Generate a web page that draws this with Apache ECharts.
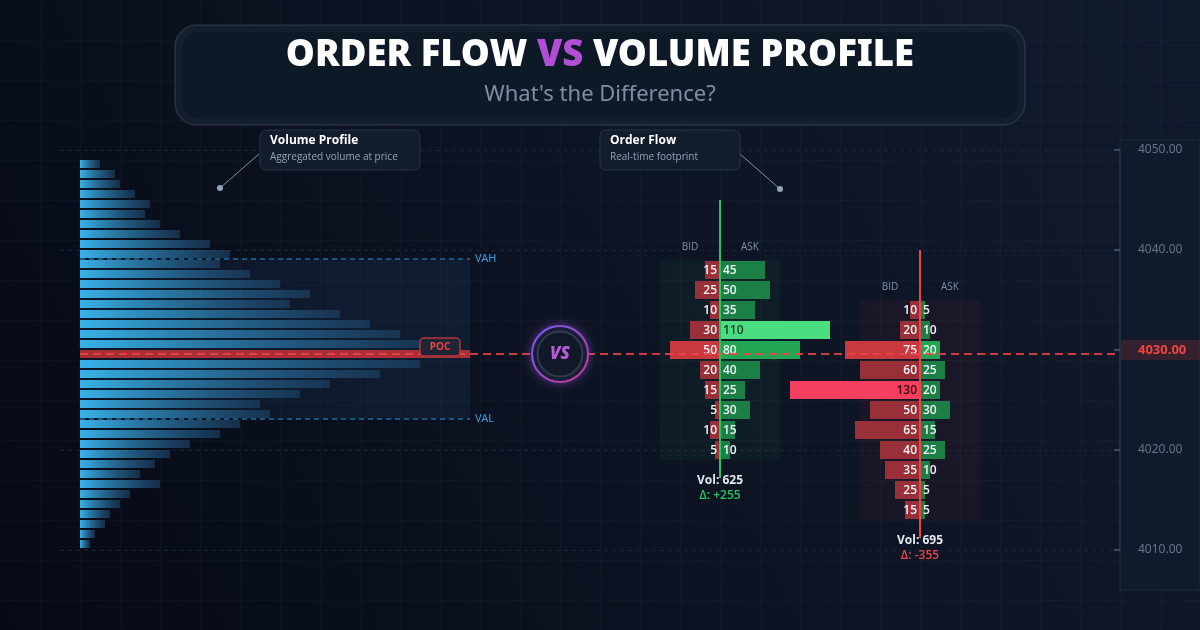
<!DOCTYPE html>
<html>
<head>
<meta charset="utf-8">
<script src="https://cdn.jsdelivr.net/npm/echarts@6/dist/echarts.min.js"></script>
<style>
  html, body { margin: 0; padding: 0; background: #0a1020; }
  #chart { width: 1200px; height: 630px; }
</style>
</head>
<body>
<div id="chart"></div>
<script>
// volume profile, one row per price level (top to bottom)
const profilePrices = [4049, 4048, 4047, 4046, 4045, 4044, 4043, 4042, 4041, 4040,
  4039, 4038, 4037, 4036, 4035, 4034, 4033, 4032, 4031, 4030,
  4029, 4028, 4027, 4026, 4025, 4024, 4023, 4022, 4021, 4020,
  4019, 4018, 4017, 4016, 4015, 4014, 4013, 4012, 4011]
const profileVol = [20, 35, 40, 55, 70, 65, 80, 100, 130, 150,
  140, 170, 200, 230, 210, 260, 290, 320, 340, 390,
  340, 300, 250, 220, 180, 190, 160, 140, 110, 90,
  75, 60, 80, 50, 40, 30, 25, 15, 10]
const pocPrice = 4030
const vahPrice = 4039.5
const valPrice = 4023.5

// footprint 1 (buyers in control)
const fp1Prices = [4038, 4036, 4034, 4032, 4030, 4028, 4026, 4024, 4022, 4020]
const fp1Bid = [15, 25, 10, 30, 50, 20, 15, 5, 10, 5]
const fp1Ask = [45, 50, 35, 110, 80, 40, 25, 30, 15, 10]

// footprint 2 (sellers in control)
const fp2Prices = [4034, 4032, 4030, 4028, 4026, 4024, 4022, 4020, 4018, 4016, 4014]
const fp2Bid = [10, 20, 75, 60, 130, 50, 65, 40, 35, 25, 15]
const fp2Ask = [5, 10, 20, 25, 20, 30, 15, 25, 10, 5, 5]

const priceTicks = [4010, 4020, 4030, 4040, 4050]

const sum = arr => arr.reduce((a, b) => a + b, 0)
const pocVol = Math.max(...profileVol)

const RED = '#ef4444'
const GREEN = '#22c55e'

const footprints = [
  { prices: fp1Prices, bid: fp1Bid, ask: fp1Ask, cx: 720, lineTop: 4045, line: GREEN, box: 'rgba(34,197,94,0.05)' },
  { prices: fp2Prices, bid: fp2Bid, ask: fp2Ask, cx: 920, lineTop: 4040, line: RED, box: 'rgba(239,68,68,0.05)' },
]

function footprintSeries(fp) {
  const delta = sum(fp.ask) - sum(fp.bid)
  const hotSide = delta >= 0 ? 'ask' : 'bid'
  const hotIdx = hotSide === 'ask' ? fp.ask.indexOf(Math.max(...fp.ask)) : fp.bid.indexOf(Math.max(...fp.bid))
  return {
    type: 'custom',
    xAxisIndex: 0,
    yAxisIndex: 0,
    z: 3,
    data: fp.prices.map((p, i) => [p, fp.bid[i], fp.ask[i]]),
    renderItem(params, api) {
      const i = params.dataIndex
      const p = api.value(0)
      const b = api.value(1)
      const a = api.value(2)
      const h = api.size([0, 1.8])[1]
      const l = api.coord([fp.cx - b, p])
      const c = api.coord([fp.cx, p])
      const r = api.coord([fp.cx + a, p])
      const atPoc = p === pocPrice
      const bidHot = hotSide === 'bid' && i === hotIdx
      const askHot = hotSide === 'ask' && i === hotIdx
      const bidFill = bidHot ? '#f43f5e' : atPoc ? '#c9383e' : '#992f37'
      const askFill = askHot ? '#4ade80' : atPoc ? '#22a654' : '#1c8046'
      const font = '600 12px "Open Sans", "Noto Sans", sans-serif'
      return {
        type: 'group',
        children: [
          { type: 'rect', shape: { x: l[0], y: c[1] - h / 2, width: c[0] - l[0], height: h }, style: { fill: bidFill } },
          { type: 'rect', shape: { x: c[0], y: c[1] - h / 2, width: r[0] - c[0], height: h }, style: { fill: askFill } },
          { type: 'text', x: c[0] - 3, y: c[1] + 0.5, style: { text: String(b), align: 'right', verticalAlign: 'middle', font, fill: bidHot ? '#3b0613' : '#f1f5f9' } },
          { type: 'text', x: c[0] + 3, y: c[1] + 0.5, style: { text: String(a), align: 'left', verticalAlign: 'middle', font, fill: askHot ? '#0f3d22' : '#f1f5f9' } },
        ],
      }
    },
  }
}

const series = [
  // value area background
  {
    type: 'custom',
    xAxisIndex: 1,
    yAxisIndex: 1,
    z: 1,
    data: [[vahPrice, valPrice, pocVol]],
    renderItem(params, api) {
      const tl = api.coord([0, api.value(0)])
      const br = api.coord([api.value(2), api.value(1)])
      return {
        type: 'rect',
        shape: { x: tl[0], y: tl[1], width: br[0] - tl[0], height: br[1] - tl[1] },
        style: { fill: new echarts.graphic.LinearGradient(0, 0, 1, 0, [
          { offset: 0, color: 'rgba(40,90,140,0.10)' },
          { offset: 1, color: 'rgba(40,90,140,0.16)' },
        ]) },
      }
    },
  },
  // volume profile bars
  {
    type: 'custom',
    xAxisIndex: 1,
    yAxisIndex: 1,
    z: 2,
    data: profilePrices.map((p, i) => [profileVol[i], p]),
    renderItem(params, api) {
      const v = api.value(0)
      const p = api.value(1)
      const s = api.coord([0, p])
      const e = api.coord([v, p])
      const h = api.size([0, 0.8])[1]
      const fill = p === pocPrice
        ? 'rgba(196,50,58,0.85)'
        : new echarts.graphic.LinearGradient(0, 0, 1, 0, [
          { offset: 0, color: '#38b2ea' },
          { offset: 1, color: 'rgba(32,72,112,0.55)' },
        ])
      return { type: 'rect', shape: { x: s[0], y: s[1] - h / 2, width: e[0] - s[0], height: h }, style: { fill } }
    },
  },
  // VAH / VAL
  {
    type: 'line',
    xAxisIndex: 1,
    yAxisIndex: 1,
    z: 3,
    symbol: 'none',
    data: [[0, vahPrice], [pocVol, vahPrice]],
    lineStyle: { color: '#1d6b9c', width: 1.5, type: [5, 4] },
    endLabel: { show: true, formatter: 'VAH', color: '#3b9ddb', fontSize: 11, distance: 5, fontFamily: 'Noto Sans' },
  },
  {
    type: 'line',
    xAxisIndex: 1,
    yAxisIndex: 1,
    z: 3,
    symbol: 'none',
    data: [[0, valPrice], [pocVol, valPrice]],
    lineStyle: { color: '#1d6b9c', width: 1.5, type: [5, 4] },
    endLabel: { show: true, formatter: 'VAL', color: '#3b9ddb', fontSize: 11, distance: 5, fontFamily: 'Noto Sans' },
  },
  ...footprints.map(footprintSeries),
  // POC line across the whole chart
  {
    type: 'line',
    xAxisIndex: 1,
    yAxisIndex: 1,
    z: 4,
    symbol: 'none',
    data: [[0, pocPrice], [1035, pocPrice]],
    lineStyle: { color: RED, width: 2, type: [8, 5], opacity: 0.85 },
  },
  // footprint spines
  ...footprints.map(fp => ({
    type: 'line',
    xAxisIndex: 0,
    yAxisIndex: 0,
    z: 5,
    symbol: 'none',
    data: [[fp.cx, fp.lineTop], [fp.cx, fp.prices[fp.prices.length - 1] - 2.8]],
    lineStyle: { color: fp.line, width: 2 },
  })),
]

const option = {
  backgroundColor: '#0a1020',
  animation: false,
  title: {
    text: '{w|ORDER FLOW }{v|VS}{w| VOLUME PROFILE}',
    subtext: "What's the Difference?",
    left: 'center',
    top: 28,
    itemGap: 14,
    textStyle: {
      rich: {
        w: { color: '#ffffff', fontSize: 36.5, fontWeight: 900, fontFamily: 'Noto Sans', lineHeight: 46 },
        v: { color: '#b04fd4', fontSize: 36.5, fontWeight: 900, fontFamily: 'Noto Sans', lineHeight: 46 },
      },
    },
    subtextStyle: { color: '#7f8ea3', fontSize: 22, fontFamily: 'Noto Sans' },
  },
  grid: [
    { left: 60, right: 80, top: 150, bottom: 80 },
    { left: 80, right: 85, top: 154, bottom: 76 },
  ],
  xAxis: [
    { type: 'value', gridIndex: 0, min: 60, max: 1120, show: false },
    { type: 'value', gridIndex: 1, min: 0, max: 1035, show: false },
  ],
  yAxis: [
    {
      type: 'value',
      gridIndex: 0,
      position: 'right',
      min: priceTicks[0],
      max: priceTicks[priceTicks.length - 1],
      interval: 10,
      axisLine: { show: true, onZero: false, lineStyle: { color: '#27354a', width: 1.5 } },
      axisTick: { show: true, inside: true, length: 6, lineStyle: { color: '#3e4c60', width: 2 } },
      axisLabel: {
        margin: 18,
        align: 'left',
        color: '#64748b',
        fontSize: 12,
        fontFamily: 'Noto Sans',
        formatter: v => v === pocPrice ? '{poc|' + v.toFixed(2) + '}' : v.toFixed(2),
        rich: { poc: { color: RED, fontWeight: 'bold', fontSize: 13, fontFamily: 'Noto Sans' } },
      },
      splitLine: {
        show: true,
        lineStyle: { color: priceTicks.map(t => t === pocPrice ? 'rgba(0,0,0,0)' : '#1b2435'), type: [4, 4] },
      },
    },
    { type: 'value', gridIndex: 1, min: 4010, max: 4050, show: false },
  ],
  series,
}

const chart = echarts.init(document.getElementById('chart'))
chart.setOption(option)

const px0 = (x, y) => chart.convertToPixel({ gridIndex: 0 }, [x, y])
const px1 = (x, y) => chart.convertToPixel({ gridIndex: 1 }, [x, y])

const g = []
g.push({
  type: 'rect', z: -100, silent: true,
  shape: { x: 0, y: 0, width: 1200, height: 630 },
  style: { fill: new echarts.graphic.LinearGradient(0, 1, 1, 0, [
    { offset: 0, color: '#060a15' },
    { offset: 0.55, color: '#0d1424' },
    { offset: 1, color: '#111a2b' },
  ]) },
})
for (let x = 40; x < 1200; x += 40) {
  g.push({ type: 'line', z: -90, silent: true, shape: { x1: x + 0.5, y1: 0, x2: x + 0.5, y2: 630 }, style: { stroke: 'rgba(148,163,184,0.045)', lineWidth: 1 } })
}
for (let y = 40; y < 630; y += 40) {
  g.push({ type: 'line', z: -90, silent: true, shape: { x1: 0, y1: y + 0.5, x2: 1200, y2: y + 0.5 }, style: { stroke: 'rgba(148,163,184,0.045)', lineWidth: 1 } })
}

// price axis panel
g.push({ type: 'rect', z: -80, shape: { x: 1120, y: 140, width: 80, height: 450 }, style: { fill: '#111a2a', stroke: '#1f2a3b', lineWidth: 1 } })
const pocY0 = px0(1120, pocPrice)[1]
g.push({ type: 'rect', z: -70, shape: { x: 1121, y: pocY0 - 10, width: 79, height: 20 }, style: { fill: 'rgba(239,68,68,0.17)' } })

// title box
g.push({ type: 'rect', z: -5, shape: { x: 175, y: 25, width: 850, height: 100, r: 22 }, style: { fill: '#141f2e', stroke: 'rgba(100,116,139,0.28)', lineWidth: 1.5 } })
g.push({ type: 'rect', z: -4, shape: { x: 182, y: 32, width: 836, height: 86, r: 17 }, style: { fill: '#0d1926' } })

// callouts
function callout(x, title, sub, w) {
  g.push({ type: 'rect', z: 8, shape: { x, y: 130, width: w, height: 40, r: 6 }, style: { fill: '#121c2b', stroke: '#27334a', lineWidth: 1 } })
  g.push({ type: 'text', z: 9, x: x + 10, y: 141, style: { text: title, fill: '#ffffff', font: 'bold 12px "Open Sans", sans-serif', verticalAlign: 'middle' } })
  g.push({ type: 'text', z: 9, x: x + 10, y: 157, style: { text: sub, fill: '#94a3b8', font: '10px "Open Sans", sans-serif', verticalAlign: 'middle' } })
}
callout(260, 'Volume Profile', 'Aggregated volume at price', 160)
callout(600, 'Order Flow', 'Real-time footprint', 140)
g.push({ type: 'line', z: 7, shape: { x1: 259, y1: 154, x2: 220, y2: 188 }, style: { stroke: '#8090a6', lineWidth: 1 } })
g.push({ type: 'circle', z: 7, shape: { cx: 220, cy: 188, r: 3 }, style: { fill: '#94a3b8' } })
g.push({ type: 'line', z: 7, shape: { x1: 740, y1: 154, x2: 780, y2: 189 }, style: { stroke: '#8090a6', lineWidth: 1 } })
g.push({ type: 'circle', z: 7, shape: { cx: 780, cy: 189, r: 3 }, style: { fill: '#94a3b8' } })

// POC tag on the profile
const pocTag = px1(pocVol - 30, pocPrice)
g.push({ type: 'rect', z: 8, shape: { x: pocTag[0] - 20, y: pocTag[1] - 16, width: 40, height: 18, r: 4 }, style: { fill: '#1e2535', stroke: '#b3343c', lineWidth: 1.5 } })
g.push({ type: 'text', z: 9, x: pocTag[0], y: pocTag[1] - 7, style: { text: 'POC', align: 'center', verticalAlign: 'middle', fill: RED, font: 'bold 10px "Open Sans", sans-serif' } })

// VS badge on the POC line
const vsY = px1(0, pocPrice)[1]
g.push({ type: 'circle', z: 8, shape: { cx: 560, cy: vsY, r: 28 }, style: {
  fill: '#111827', lineWidth: 2, shadowBlur: 10, shadowColor: 'rgba(168,85,247,0.45)',
  stroke: new echarts.graphic.LinearGradient(0, 0, 1, 1, [{ offset: 0, color: '#6d5cff' }, { offset: 1, color: '#c53a8a' }]),
} })
g.push({ type: 'circle', z: 9, shape: { cx: 560, cy: vsY, r: 22.5 }, style: { fill: '#111827', stroke: '#2e3c4d', lineWidth: 2 } })
g.push({ type: 'text', z: 10, x: 560, y: vsY, style: { text: 'VS', align: 'center', verticalAlign: 'middle', fill: '#b85ad8', font: 'italic 900 17px "Noto Sans", sans-serif' } })

// footprint boxes, headers and totals
footprints.forEach(fp => {
  const top = px0(fp.cx - 60, fp.prices[0] + 1)
  const bot = px0(fp.cx + 60, fp.prices[fp.prices.length - 1] - 1)
  g.push({ type: 'rect', z: 1, shape: { x: top[0], y: top[1], width: bot[0] - top[0], height: bot[1] - top[1] }, style: { fill: fp.box } })
  const head = px0(fp.cx, fp.prices[0] + 2.3)
  g.push({ type: 'text', z: 10, x: head[0] - 30, y: head[1], style: { text: 'BID', align: 'center', verticalAlign: 'middle', fill: '#8190a5', font: '10px "Open Sans", sans-serif' } })
  g.push({ type: 'text', z: 10, x: head[0] + 30, y: head[1], style: { text: 'ASK', align: 'center', verticalAlign: 'middle', fill: '#8190a5', font: '10px "Open Sans", sans-serif' } })
  const vol = sum(fp.bid) + sum(fp.ask)
  const delta = sum(fp.ask) - sum(fp.bid)
  const foot = px0(fp.cx, fp.prices[fp.prices.length - 1] - 3.1)
  g.push({ type: 'text', z: 10, x: foot[0], y: foot[1], style: { text: 'Vol: ' + vol, align: 'center', verticalAlign: 'middle', fill: '#e5e9f0', font: 'bold 12px "Open Sans", sans-serif' } })
  g.push({ type: 'text', z: 10, x: foot[0], y: foot[1] + 15, style: { text: 'Δ: ' + (delta > 0 ? '+' : '') + delta, align: 'center', verticalAlign: 'middle', fill: delta >= 0 ? GREEN : RED, font: '600 12px "Open Sans", sans-serif' } })
})

chart.setOption({ graphic: g })
</script>
</body>
</html>
